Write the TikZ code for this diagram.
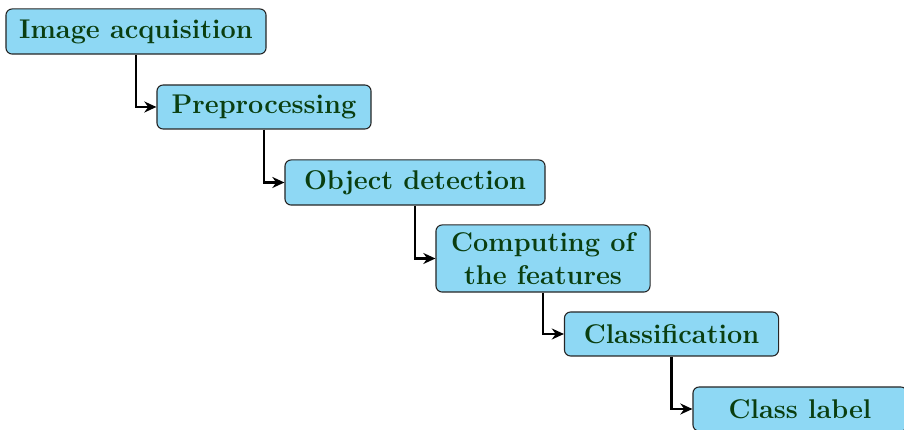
\documentclass[tikz,border=0pt]{standalone}
\usetikzlibrary{arrows.meta}
\definecolor{boxfill}{RGB}{142,216,244}
\definecolor{txtgreen}{RGB}{10,62,16}
\begin{document}
\begin{tikzpicture}[x=0.4545pt,y=-0.4545pt,
  stage/.style={draw=black!85, line width=0.5pt, fill=boxfill, rounded corners=2.8pt,
    text=txtgreen, font=\fontsize{12.3}{15}\selectfont\bfseries, inner sep=0pt, align=center},
  wide/.style={minimum width=118.2pt, minimum height=20.5pt},
  narrow/.style={minimum width=97.3pt, minimum height=20pt},
  flow/.style={-{Stealth[length=5.5pt,width=5pt]}, line width=1.1pt}]
\useasboundingbox (0,0) rectangle (904,430);
\node[stage, wide]   (acq)  at (136,31.5)  {Image acquisition};
\node[stage, narrow] (pre)  at (264,107)   {Preprocessing};
\node[stage, wide]   (det)  at (415,182.5) {Object detection};
\node[stage, minimum width=97.3pt, minimum height=30.5pt] (feat) at (543,258.5) {Computing of\\the features};
\node[stage, narrow] (cls)  at (671.5,334) {Classification};
\node[stage, narrow] (lab)  at (800,409)   {Class label};
\draw[flow] (acq.south)  |- (pre.west);
\draw[flow] (pre.south)  |- (det.west);
\draw[flow] (det.south)  |- (feat.west);
\draw[flow] (feat.south) |- (cls.west);
\draw[flow] (cls.south)  |- (lab.west);
\end{tikzpicture}
\end{document}
